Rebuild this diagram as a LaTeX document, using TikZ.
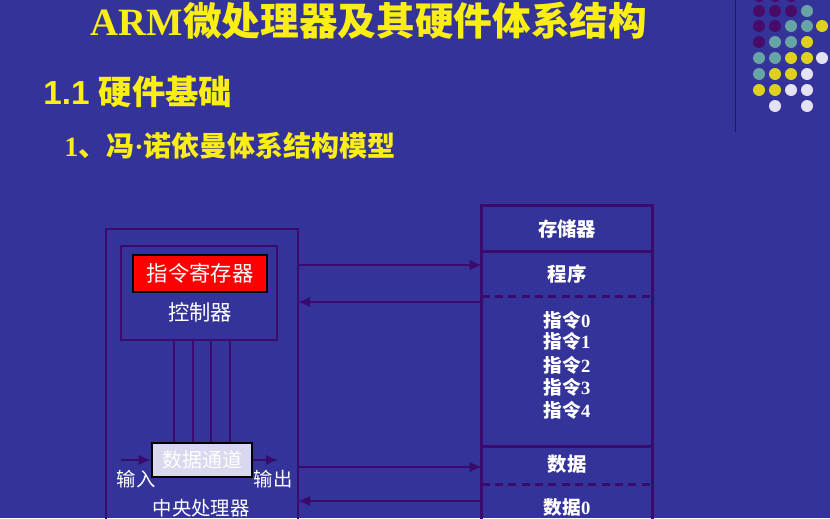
\documentclass[tikz,border=0pt]{standalone}
\usepackage{fontspec}
\usetikzlibrary{arrows.meta}
\setmainfont{Liberation Serif}
\newfontfamily\cjk{Noto Sans CJK SC}
\newfontfamily\arial{Liberation Sans}
\definecolor{slide}{RGB}{51,51,153}
\definecolor{wire}{RGB}{58,10,108}
\definecolor{titleyellow}{RGB}{250,238,20}
\definecolor{dotpurple}{RGB}{72,12,104}
\definecolor{dotteal}{RGB}{102,164,166}
\definecolor{dotyellow}{RGB}{222,208,30}
\definecolor{dotwhite}{RGB}{226,226,244}
\definecolor{pathfill}{RGB}{216,216,238}
\begin{document}
\begin{tikzpicture}[x=0.75pt,y=-0.75pt]
      \tikzstyle{box}=[draw=wire,line width=2pt,inner sep=0pt]
      \tikzstyle{cell}=[inner sep=0pt,minimum width=127.5pt]
      \tikzstyle{lbl}=[text=white,inner sep=0pt,font=\cjk\fontsize{14.5}{16}\selectfont]
      \tikzstyle{arrow}=[draw=wire,line width=2pt,-{Latex[length=9pt,width=8pt]}]
      \useasboundingbox (0,0) rectangle (830,518);
      \fill[slide] (0,0) rectangle (830,518);
      \clip (0,0) rectangle (830,518);
      % title block
      \node[text=titleyellow,font=\fontsize{29}{34}\selectfont\bfseries] (title) at (369,21) {ARM{\cjk 微处理器及其硬件体系结构}};
      \node[text=titleyellow,anchor=west,inner sep=0pt,font=\fontsize{25}{29}\selectfont] (sec) at (43,92) {{\arial\bfseries 1.1 }{\cjk\bfseries 硬件基础}};
      \node[text=titleyellow,anchor=west,inner sep=0pt,font=\fontsize{21}{25}\selectfont\bfseries] (sub) at (64,146) {1{\cjk 、冯}·{\cjk 诺依曼体系结构模型}};
      % dots of the template
      \draw[color={rgb,255:red,28;green,28;blue,90},line width=0.75pt] (735,0) -- (735,132);
      \foreach \x/\y/\c in {759/-4/dotpurple,775/-4/dotpurple,791/-4/dotpurple,
        759/11/dotpurple,775/11/dotpurple,791/11/dotpurple,807/11/dotteal,
        759/26/dotpurple,775/26/dotpurple,791/26/dotteal,807/26/dotteal,822/26/dotyellow,
        759/42/dotpurple,775/42/dotteal,791/42/dotteal,807/42/dotyellow,
        759/58/dotteal,775/58/dotteal,791/58/dotyellow,807/58/dotyellow,822/58/dotwhite,
        759/74/dotteal,775/74/dotyellow,791/74/dotyellow,807/74/dotwhite,
        759/90/dotyellow,775/90/dotyellow,791/90/dotwhite,807/90/dotwhite,
        775/106/dotwhite,807/106/dotwhite}
        \fill[\c] (\x,\y) circle[radius=6];
      % CPU side
      \node[box,minimum width=144pt,minimum height=248.25pt] (cpu) at (202,394.5) {};
      \node[box,minimum width=117pt,minimum height=70.5pt] (ctrl) at (199,293) {};
      \node[box,draw=black,fill=red,minimum width=100.5pt,minimum height=27.75pt,text=white,font=\cjk\fontsize{16}{18}\selectfont] (ir) at (200,273.5) {指令寄存器};
      \node[lbl,font=\cjk\fontsize{16}{18}\selectfont] (ctrllbl) at (200,312) {控制器};
      \node[box,draw=black,fill=pathfill,minimum width=75pt,minimum height=25.5pt,text=white,font=\cjk\fontsize{15}{17}\selectfont] (dp) at (202,460) {数据通道};
      \foreach \x in {174,193,211,230}
        {
        \coordinate (v) at (\x,0);
        \draw[wire,line width=2pt] (ctrl.south -| v) -- (dp.north -| v);
        }
      \coordinate (in) at (121,460);
      \coordinate (out) at (278,460);
      \draw[arrow] (in) -- (dp.west);
      \draw[arrow] (dp.east) -- (out);
      \node[lbl] (inlbl) at (136,479) {输入};
      \node[lbl] (outlbl) at (273,479) {输出};
      \node[lbl] (cpulbl) at (201,508) {中央处理器};
      % memory side
      \node[cell,minimum height=34.5pt] (memhead) at (567,229) {};
      \node[cell,minimum height=33.75pt] (prog) at (567,274.5) {};
      \node[cell,minimum height=112.5pt] (instr) at (567,372) {};
      \node[cell,minimum height=28.5pt] (data) at (567,466) {};
      \node[cell,minimum height=86.25pt] (data0) at (567,542.5) {};
      \draw[wire,line width=2pt] (memhead.north west) rectangle (data0.south east);
      \draw[wire,line width=2pt] (prog.north west) -- (prog.north east);
      \draw[wire,line width=2pt,dash pattern=on 6pt off 4pt] (instr.north west) -- (instr.north east);
      \draw[wire,line width=2pt] (data.north west) -- (data.north east);
      \draw[wire,line width=2pt,dash pattern=on 6pt off 4pt] (data0.north west) -- (data0.north east);
      \node[lbl,font=\cjk\bfseries\fontsize{14.5}{16}\selectfont] (memlbl) at (memhead) {存储器};
      \node[lbl,font=\cjk\bfseries\fontsize{14.5}{16}\selectfont] (proglbl) at (567,274) {程序};
      \foreach \n/\y in {0/320,1/341,2/365,3/387,4/410}
        \node[lbl,font=\bfseries\fontsize{14}{16}\selectfont] (i\n) at (567,\y) {{\cjk 指令}\n};
      \node[lbl,font=\cjk\bfseries\fontsize{14.5}{16}\selectfont] (datalbl) at (567,464) {数据};
      \node[lbl,font=\bfseries\fontsize{14}{16}\selectfont] (d0) at (567,507) {{\cjk 数据}0};
      % buses between them
      \coordinate (c1) at (298,265);
      \coordinate (c2) at (298,302);
      \coordinate (c3) at (298,467);
      \coordinate (c4) at (298,501);
      \draw[arrow] (c1) -- (c1 -| prog.west);
      \draw[arrow] (c2 -| instr.west) -- (c2);
      \draw[arrow] (c3) -- (c3 -| data.west);
      \draw[arrow] (c4 -| data0.west) -- (c4);
    \end{tikzpicture}
\end{document}
